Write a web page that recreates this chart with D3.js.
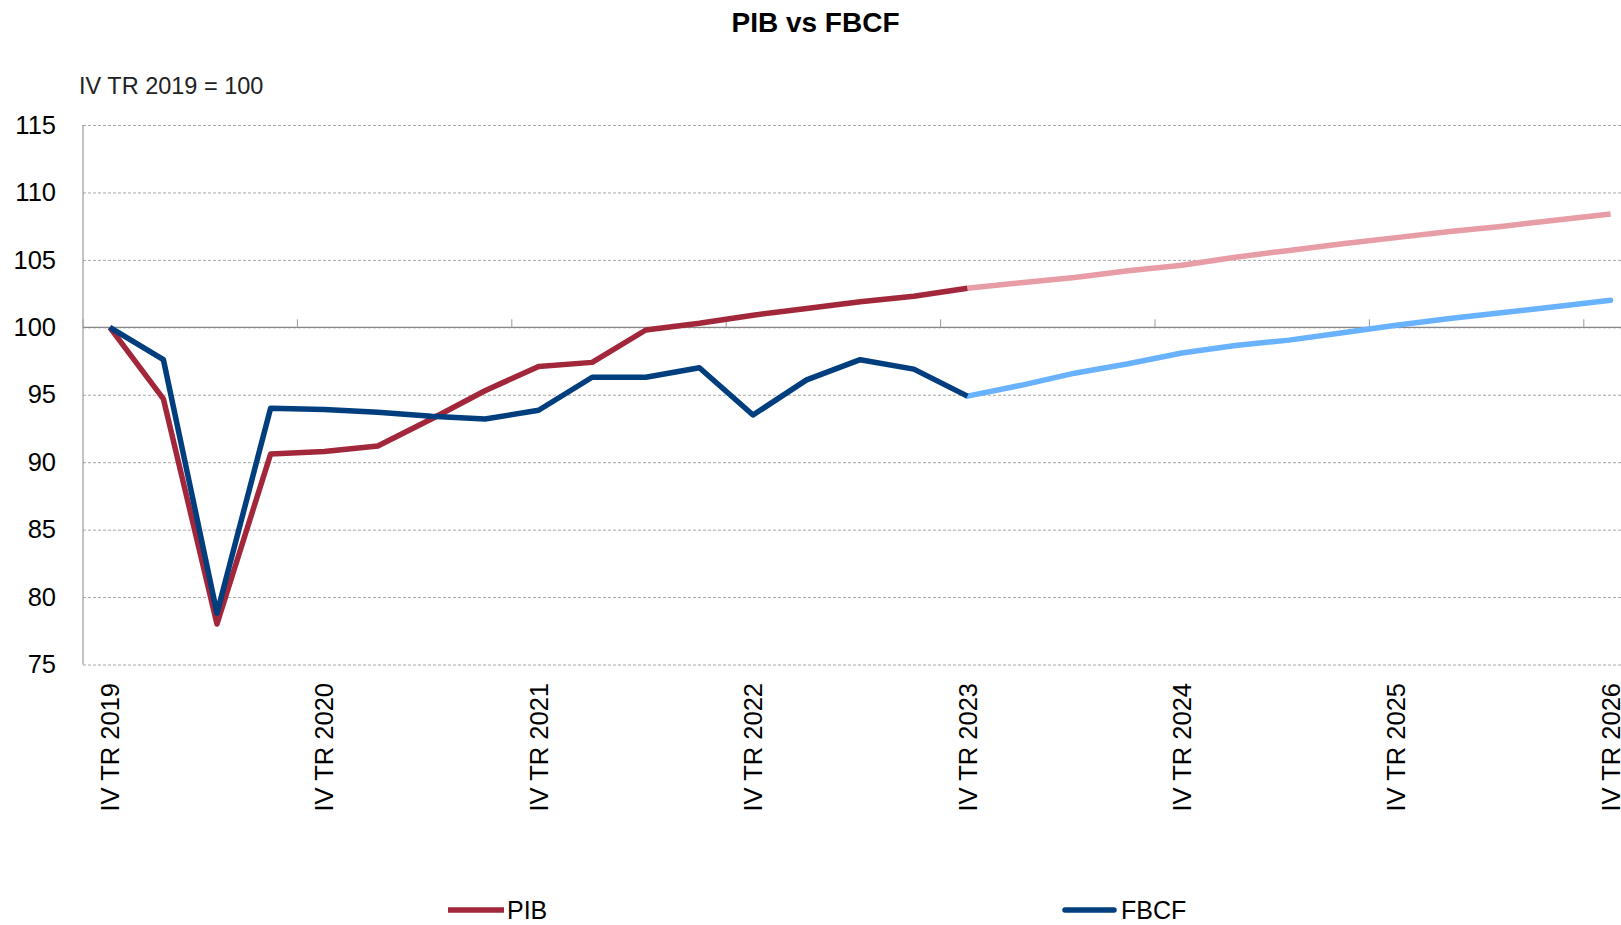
<!DOCTYPE html>
<html>
<head>
<meta charset="utf-8">
<script src="https://cdn.jsdelivr.net/npm/d3@7"></script>
<style>
  body { margin: 0; background: #fff; }
  svg { display: block; font-family: "Liberation Sans", Arial, sans-serif; }
</style>
</head>
<body>
<div id="chart"></div>
<script>
// quarters, IV TR 2019 .. IV TR 2026
const quarters = [
  "IV TR 2019",
  "I TR 2020", "II TR 2020", "III TR 2020", "IV TR 2020",
  "I TR 2021", "II TR 2021", "III TR 2021", "IV TR 2021",
  "I TR 2022", "II TR 2022", "III TR 2022", "IV TR 2022",
  "I TR 2023", "II TR 2023", "III TR 2023", "IV TR 2023",
  "I TR 2024", "II TR 2024", "III TR 2024", "IV TR 2024",
  "I TR 2025", "II TR 2025", "III TR 2025", "IV TR 2025",
  "I TR 2026", "II TR 2026", "III TR 2026", "IV TR 2026"
];
const xLabels = ["IV TR 2019", "IV TR 2020", "IV TR 2021", "IV TR 2022",
  "IV TR 2023", "IV TR 2024", "IV TR 2025", "IV TR 2026"];
const yTicks = [75, 80, 85, 90, 95, 100, 105, 110, 115];

// observed: IV TR 2019 .. IV TR 2023
const pibActual = [100, 94.7, 78.0, 90.6, 90.8, 91.2, 93.2, 95.3, 97.1,
  97.4, 99.8, 100.3, 100.9, 101.4, 101.9, 102.3, 102.9];
const fbcfActual = [100, 97.6, 78.8, 94.0, 93.9, 93.7, 93.4, 93.2, 93.85,
  96.3, 96.3, 97.0, 93.5, 96.1, 97.6, 96.9, 94.9];
// forecast: IV TR 2023 .. IV TR 2026
const pibForecast = [102.9, 103.3, 103.7, 104.2, 104.6, 105.2, 105.7,
  106.2, 106.65, 107.1, 107.5, 107.95, 108.4];
const fbcfForecast = [94.9, 95.7, 96.6, 97.3, 98.1, 98.65, 99.05,
  99.6, 100.15, 100.65, 101.1, 101.55, 102.0];
const forecastStart = 16;

const width = 1621, height = 925;
const plotLeft = 83, band = 53.6;
const plotTop = 125, plotBottom = 664.5;

const svg = d3.select("#chart").append("svg")
  .attr("width", width)
  .attr("height", height);

const x = d3.scaleBand()
  .domain(quarters)
  .range([plotLeft, plotLeft + band * quarters.length]);

const y = d3.scaleLinear()
  .domain([75, 115])
  .range([plotBottom, plotTop]);

const cx = q => x(q) + x.bandwidth() / 2;
const plotRight = x.range()[1];

// grid + y labels
const yAxis = svg.append("g")
  .attr("transform", `translate(${plotLeft},0)`)
  .call(d3.axisLeft(y).tickValues(yTicks).tickSize(-(plotRight - plotLeft)).tickPadding(27));
yAxis.select(".domain").remove();
yAxis.selectAll(".tick line")
  .attr("stroke", "#a6a6a6")
  .attr("stroke-dasharray", "3,2");
yAxis.selectAll(".tick text")
  .attr("fill", "#000")
  .style("font-size", "25.5px");

// y axis line
svg.append("line")
  .attr("x1", plotLeft).attr("x2", plotLeft)
  .attr("y1", plotTop).attr("y2", plotBottom)
  .attr("stroke", "#888");

// x axis line crossing at 100
svg.append("line")
  .attr("x1", plotLeft).attr("x2", plotRight)
  .attr("y1", y(100)).attr("y2", y(100))
  .attr("stroke", "#888")
  .attr("stroke-width", 1.3);

svg.append("g").selectAll("line")
  .data(xLabels)
  .join("line")
  .attr("x1", d => x(d)).attr("x2", d => x(d))
  .attr("y1", y(100)).attr("y2", y(100) - 8)
  .attr("stroke", "#999");

// x labels
const xAxis = svg.append("g")
  .attr("transform", "translate(0,683)")
  .call(d3.axisBottom(x).tickValues(xLabels).tickSize(0));
xAxis.select(".domain").remove();
xAxis.selectAll(".tick text")
  .attr("transform", "rotate(-90)")
  .attr("x", 0)
  .attr("y", 0)
  .attr("dy", "0.36em")
  .attr("text-anchor", "end")
  .attr("fill", "#000")
  .style("font-size", "25.5px");

// lines
const lineFrom = offset => d3.line()
  .x((d, i) => cx(quarters[offset + i]))
  .y(d => y(d));

const series = [
  { data: pibForecast, offset: forecastStart, color: "#e89ca5", cap: "butt" },
  { data: pibActual, offset: 0, color: "#a2273a", cap: "butt" },
  { data: fbcfForecast, offset: forecastStart, color: "#69b2ff", cap: "round" },
  { data: fbcfActual, offset: 0, color: "#003e7e", cap: "butt" }
];

series.forEach(s => {
  svg.append("path")
    .datum(s.data)
    .attr("fill", "none")
    .attr("stroke", s.color)
    .attr("stroke-width", 5.5)
    .attr("stroke-linejoin", "round")
    .attr("stroke-linecap", s.cap)
    .attr("d", lineFrom(s.offset));
});

// title + unit note
svg.append("text")
  .attr("x", 815.5)
  .attr("y", 31.7)
  .attr("text-anchor", "middle")
  .style("font-size", "28px")
  .style("font-weight", "bold")
  .text("PIB vs FBCF");

svg.append("text")
  .attr("x", 79)
  .attr("y", 94.3)
  .attr("fill", "#222")
  .style("font-size", "23.5px")
  .text("IV TR 2019 = 100");

// legend
const legend = [
  { name: "PIB", color: "#a2273a", x: 448, cap: "butt" },
  { name: "FBCF", color: "#003e7e", x: 1062, cap: "round" }
];
const lg = svg.append("g").selectAll("g")
  .data(legend)
  .join("g")
  .attr("transform", d => `translate(${d.x},910)`);
lg.append("line")
  .attr("x1", d => d.cap === "round" ? 3 : 0)
  .attr("x2", d => d.cap === "round" ? 52 : 56)
  .attr("stroke", d => d.color)
  .attr("stroke-width", 5.5)
  .attr("stroke-linecap", d => d.cap);
lg.append("text")
  .attr("x", 59)
  .attr("y", 9)
  .style("font-size", "25px")
  .text(d => d.name);
</script>
</body>
</html>
